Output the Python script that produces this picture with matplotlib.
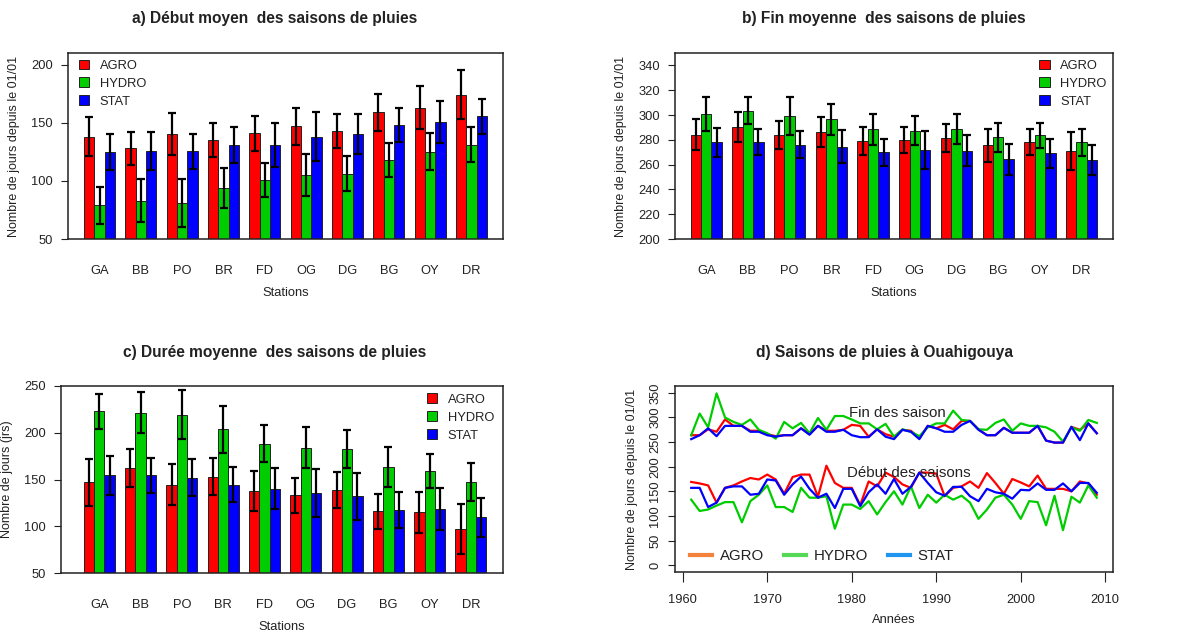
import matplotlib
matplotlib.use('Agg')
import matplotlib.pyplot as plt
import numpy as np
from matplotlib.patches import Patch
from matplotlib.lines import Line2D

plt.rcParams['font.family'] = ['Liberation Sans', 'DejaVu Sans']

# Stations and the three methods
stations = ['GA', 'BB', 'PO', 'BR', 'FD', 'OG', 'DG', 'BG', 'OY', 'DR']
methods = ['AGRO', 'HYDRO', 'STAT']

# a) start of season (mean, std)
debut_agro = [138, 128, 140, 135, 141, 147, 143, 159, 163, 174]
debut_agro_err = [17, 14, 18, 14.5, 15, 16, 14.5, 16, 18.5, 21]
debut_hydro = [79, 83, 81, 94, 101, 105, 106, 118, 125, 131]
debut_hydro_err = [16, 18.5, 21, 17, 14.5, 18, 15, 15, 16, 15]
debut_stat = [124.5, 125.5, 125.5, 131, 131, 138, 140.5, 148, 151, 155.5]
debut_stat_err = [15.5, 16.5, 15, 15.5, 19, 21, 17, 14.5, 18, 15]

# b) end of season
fin_agro = [284, 290.5, 284, 286.5, 279, 279.5, 281.5, 275.5, 278, 271]
fin_agro_err = [12.5, 12, 11.5, 12, 11.5, 10.5, 11, 13, 10.5, 15.5]
fin_hydro = [301, 303.5, 299, 296.5, 288.5, 287.5, 288.5, 282, 283.5, 278]
fin_hydro_err = [13.5, 11, 15.5, 12.5, 12.5, 11.5, 12, 11.5, 10, 11]
fin_stat = [278, 278, 276, 274.5, 270, 272, 271, 264.5, 269, 264]
fin_stat_err = [11.5, 10.5, 11, 13.5, 11, 15.5, 12.5, 12.5, 11.5, 12]

# c) season length
duree_agro = [147, 162.5, 144.5, 153, 137.5, 133, 138.5, 116, 115, 97]
duree_agro_err = [25, 20, 22, 20, 21.5, 18.5, 19.5, 18.5, 22, 27]
duree_hydro = [223, 221.5, 219.5, 203.5, 188.5, 184, 182.5, 163.5, 159, 147]
duree_hydro_err = [18.5, 22, 26.5, 25, 20, 22, 20, 21, 18.5, 20.5]
duree_stat = [154.5, 154.5, 152, 144.5, 140, 135.5, 132, 117.5, 118.5, 109.5]
duree_stat_err = [21, 18.5, 19.5, 18.5, 22, 26, 25, 19.5, 22.5, 20.5]

# d) yearly series at Ouahigouya
years = list(range(1961, 2010))
oy_fin_agro = [264, 264, 276, 271, 296, 283, 283, 273, 273, 266,
               262, 264, 264, 278, 266, 283, 273, 273, 275, 285,
               283, 261, 276, 266, 261, 275, 273, 258, 283, 278,
               285, 276, 293, 293, 276, 264, 264, 279, 269, 269,
               269, 283, 253, 249, 249, 281, 275, 288, 268]
oy_fin_hydro = [264, 308, 280, 349, 300, 291, 285, 296, 275, 268,
                257, 291, 278, 289, 268, 299, 275, 303, 303, 296,
                288, 288, 276, 287, 261, 276, 271, 262, 280, 288,
                288, 314, 295, 293, 276, 275, 289, 296, 273, 288,
                283, 283, 280, 271, 251, 280, 273, 295, 289]
oy_fin_stat = [256, 264, 278, 262, 283, 283, 283, 271, 271, 264,
               261, 264, 264, 278, 265, 283, 271, 271, 275, 264,
               260, 260, 276, 261, 256, 275, 271, 256, 283, 278,
               271, 271, 285, 293, 275, 264, 264, 279, 269, 269,
               269, 283, 253, 249, 249, 281, 254, 288, 268]
oy_debut_agro = [169, 166, 162, 127, 157, 162, 170, 177, 174, 184,
                 174, 145, 179, 184, 184, 139, 202, 167, 157, 157,
                 122, 170, 160, 188, 179, 164, 157, 188, 188, 186,
                 140, 157, 160, 170, 157, 187, 167, 145, 175, 168,
                 160, 182, 155, 155, 155, 150, 170, 166, 143]
oy_debut_hydro = [133, 110, 113, 121, 128, 128, 87, 130, 143, 162,
                  118, 118, 108, 157, 137, 137, 140, 74, 123, 123,
                  114, 130, 103, 128, 150, 123, 160, 116, 143, 127,
                  143, 133, 141, 127, 94, 113, 137, 143, 123, 94,
                  130, 128, 81, 141, 71, 139, 127, 162, 137]
oy_debut_stat = [157, 157, 118, 127, 157, 160, 160, 143, 145, 174,
                 172, 143, 164, 180, 155, 137, 145, 116, 155, 155,
                 120, 148, 164, 145, 175, 145, 159, 188, 167, 148,
                 141, 159, 159, 140, 130, 155, 148, 145, 135, 153,
                 152, 166, 153, 153, 166, 150, 167, 167, 147]

bar_colors = ['#ff0000', '#00cd00', '#0000ff']
legend_colors = ['#f4823c', '#55d855', '#1e96f0']
txt = '#222222'

fig = plt.figure(figsize=(11.94, 6.39), dpi=100)
W, H = 1194, 639


def make_axes(left, top, right, bottom):
    # pixel box -> figure fraction
    return fig.add_axes([left / W, 1 - bottom / H, (right - left) / W, (bottom - top) / H])


def bar_panel(ax, series, errs, ylim, yticks, ylabel, xlim, legend_loc, legend_anchor):
    group = np.arange(len(stations)) * 4
    for k in range(3):
        x = group + 1.5 + k
        ax.bar(x, np.array(series[k]) - ylim[0], bottom=ylim[0], width=1,
               color=bar_colors[k], edgecolor='#222222', linewidth=0.7)
        ax.errorbar(x, series[k], yerr=errs[k], fmt='none', ecolor='black',
                    elinewidth=1.6, capsize=3, capthick=1.6)
    ax.set_xlim(xlim)
    ax.set_ylim(ylim)
    ax.set_yticks(yticks)
    ax.set_xticks(group + 2.5)
    ax.set_xticklabels(stations)
    ax.tick_params(axis='x', length=0, pad=19, labelsize=9.3, colors=txt)
    ax.tick_params(axis='y', length=5, pad=6, labelsize=9.3, colors=txt)
    ax.set_xlabel('Stations', fontsize=9.3, color=txt, labelpad=7)
    ax.set_ylabel(ylabel, fontsize=9, color=txt, labelpad=8)
    for s in ax.spines.values():
        s.set_linewidth(1.1)
        s.set_color('#222222')
    handles = [Patch(facecolor=c, edgecolor='#222222', linewidth=0.7) for c in bar_colors]
    ax.legend(handles, methods, loc=legend_loc, bbox_to_anchor=legend_anchor,
              frameon=False, fontsize=9.3, handlelength=0.8, handleheight=0.8,
              handletextpad=0.8, labelspacing=0.42, borderpad=0, borderaxespad=0,
              labelcolor=txt)


# a) Début
ax1 = make_axes(68, 53, 503, 239)
bar_panel(ax1, [debut_agro, debut_hydro, debut_stat],
          [debut_agro_err, debut_hydro_err, debut_stat_err],
          (50, 210), [50, 100, 150, 200], 'Nombre de jours depuis le 01/01',
          (-0.56, 41.56), 'upper left', (0.025, 0.965))

# b) Fin
ax2 = make_axes(675, 53, 1113, 239)
bar_panel(ax2, [fin_agro, fin_hydro, fin_stat],
          [fin_agro_err, fin_hydro_err, fin_stat_err],
          (200, 350), list(range(200, 341, 20)), 'Nombre de jours depuis le 01/01',
          (-0.5, 41.5), 'upper right', (0.985, 0.965))

# c) Durée
ax3 = make_axes(61, 386, 503, 573)
bar_panel(ax3, [duree_agro, duree_hydro, duree_stat],
          [duree_agro_err, duree_hydro_err, duree_stat_err],
          (50, 250), [50, 100, 150, 200, 250], 'Nombre de jours (jrs)',
          (-1.2, 41.6), 'upper right', (0.98, 0.96))

# d) yearly lines, blue drawn last so it sits on top
ax4 = make_axes(675, 386, 1113, 572)
for fin, deb, c in zip([oy_fin_agro, oy_fin_hydro, oy_fin_stat],
                       [oy_debut_agro, oy_debut_hydro, oy_debut_stat], bar_colors):
    ax4.plot(years, fin, color=c, linewidth=1.6)
    ax4.plot(years, deb, color=c, linewidth=1.6)
ax4.set_xlim(1959.08, 2010.92)
ax4.set_ylim(-14, 364)
ax4.set_yticks(list(range(0, 351, 50)))
ax4.set_xticks(list(range(1960, 2011, 10)))
ax4.tick_params(axis='y', length=5, pad=5, labelsize=9.3, colors=txt, labelrotation=90)
for lab in ax4.get_yticklabels():
    lab.set_va('center')
ax4.tick_params(axis='x', length=7.5, pad=8, labelsize=9.3, colors=txt)
ax4.set_xlabel('Années', fontsize=9.3, color=txt, labelpad=6)
ax4.set_ylabel('Nombre de jours depuis le 01/01', fontsize=9, color=txt, labelpad=8)
for s in ax4.spines.values():
    s.set_linewidth(1.1)
    s.set_color('#222222')
ax4.text(1985.4, 310, 'Fin des saison', fontsize=10.8, color=txt, ha='center', va='center')
ax4.text(1986.8, 187, 'Début des saisons', fontsize=10.8, color=txt, ha='center', va='center')
leg_handles = [Line2D([0], [0], color=c, linewidth=3) for c in legend_colors]
ax4.legend(leg_handles, methods, loc='center left', bbox_to_anchor=(0.034, 0.086),
           ncol=3, frameon=False, fontsize=10.8, handlelength=1.5, handletextpad=0.5,
           columnspacing=1.3, borderpad=0, borderaxespad=0, labelcolor=txt)

# titles
fig.text(275 / W, 1 - 19 / H, 'a) Début moyen  des saisons de pluies',
         fontsize=11.2, fontweight='bold', color=txt, ha='center', va='center')
fig.text(884 / W, 1 - 19 / H, 'b) Fin moyenne  des saisons de pluies',
         fontsize=11.2, fontweight='bold', color=txt, ha='center', va='center')
fig.text(275 / W, 1 - 353 / H, 'c) Durée moyenne  des saisons de pluies',
         fontsize=11.2, fontweight='bold', color=txt, ha='center', va='center')
fig.text(885 / W, 1 - 352 / H, 'd) Saisons de pluies à Ouahigouya',
         fontsize=11.2, fontweight='bold', color=txt, ha='center', va='center')

fig.savefig('out.png', dpi=100)
